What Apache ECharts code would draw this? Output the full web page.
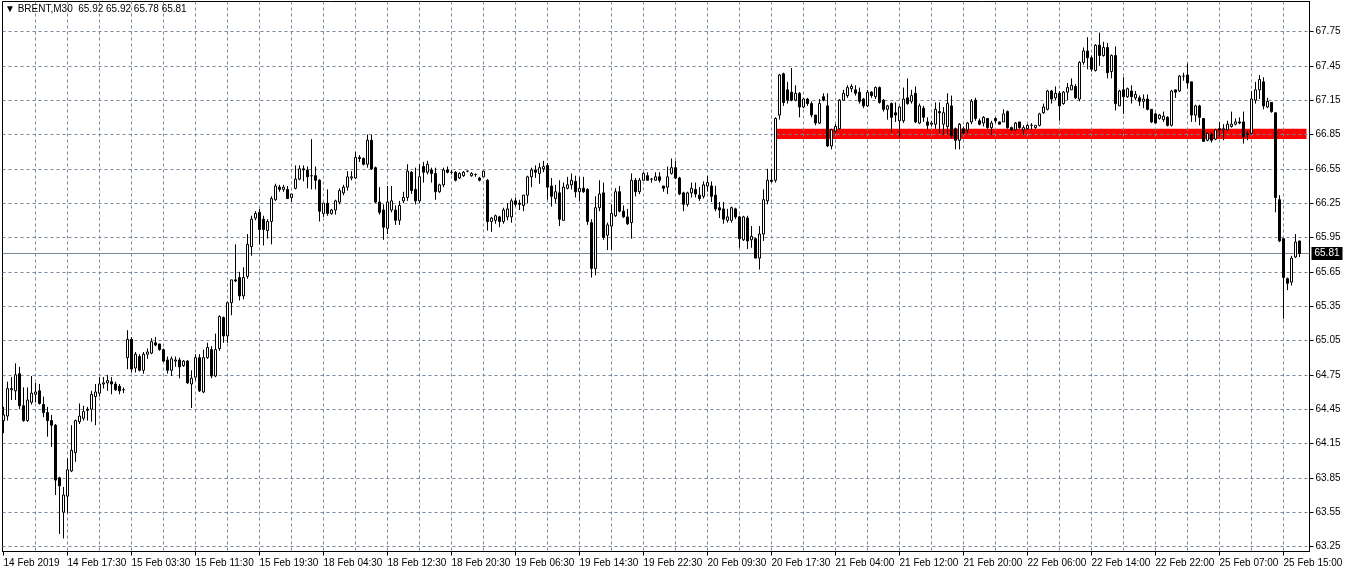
<!DOCTYPE html>
<html><head><meta charset="utf-8">
<script src="https://cdn.jsdelivr.net/npm/echarts@6/dist/echarts.min.js"></script>
<style>html,body{margin:0;padding:0;background:#fff}#c{width:1353px;height:575px}</style>
</head><body><div id="c"></div>
<script>
// ---- data ----
const symbol = 'BRENT,M30';
// each bar: [open, high, low, close]
const bars = [
[64.35,64.47,64.24,64.40],[64.39,64.69,64.35,64.63],[64.62,64.73,64.53,64.63],[64.61,64.85,64.53,64.75],
[64.76,64.82,64.45,64.48],[64.48,64.64,64.34,64.35],[64.35,64.64,64.34,64.53],[64.51,64.74,64.49,64.59],
[64.58,64.68,64.51,64.60],[64.61,64.67,64.49,64.50],[64.49,64.56,64.38,64.42],[64.42,64.47,64.21,64.35],
[64.35,64.40,64.12,64.31],[64.31,64.32,63.70,63.83],[63.85,63.86,63.36,63.78],[63.55,63.77,63.32,63.70],
[63.69,64.02,63.54,63.92],[63.91,64.31,63.90,64.09],[64.07,64.36,63.99,64.35],[64.34,64.50,64.32,64.39],
[64.37,64.48,64.35,64.43],[64.45,64.47,64.35,64.44],[64.45,64.61,64.34,64.58],[64.56,64.67,64.31,64.60],
[64.59,64.73,64.56,64.67],[64.67,64.73,64.63,64.68],[64.68,64.75,64.61,64.70],[64.69,64.73,64.58,64.67],
[64.67,64.69,64.61,64.62],[64.65,64.67,64.58,64.61],[64.62,64.64,64.59,64.62],
[64.90,65.14,64.80,65.06],[65.06,65.08,64.77,64.80],[64.81,64.95,64.77,64.93],[64.91,64.93,64.78,64.79],
[64.79,64.95,64.76,64.93],[64.93,64.98,64.89,64.95],[64.94,65.07,64.93,65.04],[65.03,65.08,65.00,65.01],
[65.02,65.02,64.96,64.97],[64.97,64.98,64.86,64.87],[64.88,64.91,64.76,64.79],[64.79,64.91,64.74,64.89],
[64.87,64.91,64.82,64.88],[64.88,64.90,64.72,64.82],[64.83,64.88,64.82,64.87],[64.87,64.88,64.67,64.68],
[64.67,64.79,64.46,64.72],[64.73,64.93,64.70,64.90],[64.90,64.93,64.60,64.61],[64.60,64.97,64.59,64.90],
[64.90,65.03,64.89,64.99],[64.97,65.00,64.72,64.74],[64.74,65.11,64.73,64.97],[64.98,65.27,64.96,65.26],
[65.25,65.26,65.03,65.09],[65.09,65.39,65.03,65.38],[65.38,65.58,65.27,65.58],[65.58,65.89,65.56,65.57],
[65.60,65.65,65.40,65.44],[65.44,65.69,65.41,65.60],[65.61,65.98,65.59,65.89],[65.87,66.14,65.79,66.11],
[66.12,66.18,66.10,66.16],[66.17,66.20,65.89,66.02],[66.11,66.14,65.88,66.02],[66.01,66.11,65.94,66.09],
[66.09,66.31,65.89,66.29],[66.28,66.42,66.27,66.40],[66.39,66.41,66.35,66.37],[66.37,66.41,66.35,66.39],
[66.37,66.40,66.29,66.29],[66.30,66.33,66.26,66.33],[66.38,66.58,66.37,66.46],[66.46,66.58,66.45,66.55],
[66.55,66.58,66.44,66.54],[66.54,66.57,66.38,66.48],[66.49,66.81,66.37,66.49],[66.49,66.57,66.37,66.45],
[66.45,66.46,66.09,66.18],[66.16,66.25,66.13,66.25],[66.25,66.37,66.14,66.16],[66.16,66.20,66.15,66.19],
[66.19,66.28,66.15,66.27],[66.26,66.38,66.24,66.36],
[66.34,66.41,66.32,66.39],[66.39,66.53,66.36,66.48],[66.47,66.53,66.45,66.48],[66.47,66.70,66.46,66.65],
[66.64,66.67,66.61,66.65],[66.64,66.65,66.58,66.59],[66.59,66.85,66.56,66.80],[66.80,66.85,66.54,66.55],
[66.56,66.57,66.25,66.26],[66.26,66.39,66.15,66.17],[66.19,66.24,65.93,66.04],[66.03,66.40,65.98,66.26],
[66.19,66.40,66.17,66.27],[66.19,66.23,66.06,66.10],[66.10,66.27,66.06,66.23],[66.27,66.35,66.25,66.30],
[66.30,66.59,66.27,66.53],[66.52,66.53,66.33,66.36],[66.37,66.56,66.24,66.27],[66.27,66.59,66.25,66.48],
[66.57,66.61,66.43,66.52],[66.52,66.62,66.50,66.59],[66.54,66.56,66.43,66.51],[66.51,66.56,66.28,66.35],
[66.35,66.42,66.34,66.41],[66.41,66.56,66.39,66.54],[66.54,66.57,66.51,66.52],[66.52,66.54,66.50,66.52],
[66.52,66.53,66.44,66.45],[66.47,66.52,66.46,66.51],[66.49,66.53,66.48,66.52],[66.53,66.53,66.52,66.53],
[66.49,66.52,66.48,66.51],[66.50,66.51,66.48,66.50],[66.47,66.48,66.44,66.45],[66.48,66.53,66.48,66.53],
[66.45,66.46,66.01,66.09],[66.09,66.13,66.00,66.12],[66.10,66.15,66.07,66.14],[66.13,66.14,66.04,66.09],
[66.09,66.21,66.07,66.19],[66.13,66.25,66.10,66.20],[66.13,66.29,66.08,66.27],[66.27,66.30,66.22,66.24],
[66.25,66.28,66.19,66.24],[66.23,66.32,66.18,66.32],[66.32,66.49,66.25,66.48],[66.48,66.56,66.39,66.54],
[66.54,66.58,66.47,66.52],[66.51,66.60,66.42,66.56],[66.55,66.62,66.52,66.57],[66.58,66.60,66.28,66.39],
[66.40,66.47,66.22,66.31],[66.29,66.41,66.25,66.35],[66.34,66.45,66.05,66.11],[66.10,66.43,66.10,66.39],
[66.38,66.48,66.37,66.41],[66.41,66.51,66.37,66.45],[66.44,66.49,66.30,66.35],[66.35,66.48,66.27,66.38],
[66.38,66.48,66.34,66.35],[66.37,66.38,66.06,66.09],[66.08,66.11,65.60,65.68],[65.68,66.31,65.62,66.21],
[66.21,66.45,66.18,66.33],[66.34,66.43,65.93,65.95],[65.97,66.08,65.84,66.06],[66.05,66.24,65.84,66.16],
[66.14,66.38,66.13,66.35],[66.35,66.40,66.17,66.18],[66.18,66.23,66.12,66.13],[66.13,66.20,66.06,66.07],
[66.08,66.51,65.94,66.45],[66.45,66.47,66.31,66.35],[66.35,66.47,66.33,66.45],[66.45,66.52,66.45,66.51],
[66.49,66.52,66.45,66.45],[66.46,66.47,66.43,66.46],[66.45,66.52,66.45,66.48],[66.48,66.52,66.43,66.45],
[66.40,66.40,66.35,66.38],[66.39,66.57,66.33,66.48],[66.51,66.64,66.50,66.56],[66.56,66.62,66.46,66.47],
[66.47,66.48,66.32,66.33],[66.34,66.35,66.18,66.24],[66.24,66.35,66.22,66.34],[66.34,66.43,66.30,66.38],
[66.37,66.43,66.30,66.33],[66.32,66.39,66.27,66.29],[66.31,66.44,66.29,66.41],[66.40,66.49,66.35,66.43],
[66.40,66.44,66.26,66.31],[66.32,66.40,66.18,66.20],[66.21,66.26,66.12,66.19],[66.20,66.26,66.07,66.11],
[66.10,66.20,66.08,66.13],[66.10,66.22,66.08,66.21],[66.20,66.21,66.11,66.13],[66.13,66.14,65.86,65.94],
[65.93,66.14,65.92,66.13],[66.12,66.14,65.85,65.92],[65.93,66.05,65.86,65.96],[65.94,65.95,65.77,65.77],
[65.77,66.05,65.67,65.98],[65.98,66.37,65.92,66.28],[66.27,66.55,66.24,66.45],[66.45,66.55,66.43,66.44],
[66.45,67.00,66.43,66.99],[67.02,67.38,66.98,67.37],[67.38,67.39,67.10,67.13],[67.24,67.31,67.12,67.15],
[67.22,67.43,67.14,67.15],[67.15,67.28,67.14,67.21],[67.21,67.22,67.00,67.09],[67.09,67.17,67.08,67.16],
[67.16,67.17,67.10,67.12],[67.12,67.14,67.00,67.02],[67.02,67.02,66.93,66.95],[66.95,67.16,66.94,67.12],
[67.18,67.21,67.14,67.15],[67.10,67.21,66.74,66.75],[66.75,66.90,66.72,66.89],[66.88,66.94,66.86,66.92],
[66.90,67.16,66.89,67.15],[67.15,67.24,67.15,67.21],[67.19,67.28,67.17,67.26],[67.25,67.29,67.22,67.27],
[67.24,67.28,67.19,67.21],[67.22,67.26,67.12,67.14],[67.16,67.17,67.08,67.10],[67.10,67.24,67.09,67.22],
[67.22,67.23,67.17,67.19],[67.18,67.27,67.16,67.26],[67.26,67.27,67.12,67.13],[67.15,67.16,67.05,67.07],
[67.07,67.11,66.98,67.10],[67.12,67.13,66.87,67.00],[67.04,67.13,66.96,67.02],[66.97,67.10,66.82,67.09],
[66.97,67.26,66.95,67.16],[67.17,67.34,67.11,67.12],[67.14,67.24,67.12,67.19],[67.21,67.27,66.95,66.96],
[66.95,67.12,66.94,67.10],[67.08,67.10,66.96,67.00],[66.96,67.00,66.89,66.93],[66.94,66.97,66.92,66.95],
[66.94,67.13,66.90,67.07],[67.05,67.13,66.86,67.04],[66.94,67.09,66.85,67.04],[66.92,67.21,66.85,67.12],
[67.10,67.19,66.82,66.84],[66.90,66.91,66.72,66.80],[66.80,66.95,66.72,66.94],[66.90,66.92,66.85,66.86],
[66.89,66.96,66.86,66.95],
[66.96,67.16,66.94,67.14],[67.15,67.17,66.97,66.99],[66.97,66.99,66.93,66.94],[66.95,67.01,66.92,67.00],
[66.99,66.99,66.90,66.91],[66.91,66.97,66.85,66.95],[66.99,67.00,66.95,66.97],[66.96,66.96,66.94,66.94],
[66.96,67.07,66.96,67.03],[67.05,67.06,66.90,66.91],[66.91,66.92,66.88,66.89],[66.89,66.96,66.88,66.95],
[66.96,66.96,66.90,66.91],[66.89,66.93,66.85,66.91],[66.90,66.94,66.89,66.93],[66.93,66.95,66.89,66.93],
[66.91,66.93,66.90,66.93],[66.93,67.04,66.92,67.03],[67.04,67.12,67.03,67.09],[67.07,67.24,67.06,67.23],
[67.23,67.24,67.12,67.16],[67.17,67.27,67.15,67.21],[67.21,67.23,66.97,67.10],[67.12,67.23,67.11,67.22],
[67.22,67.30,67.15,67.26],[67.24,67.34,67.24,67.28],[67.27,67.29,67.16,67.17],[67.16,67.49,67.14,67.48],
[67.48,67.61,67.46,67.58],[67.58,67.70,67.42,67.52],[67.52,67.54,67.40,67.42],[67.41,67.64,67.40,67.63],
[67.63,67.74,67.45,67.54],[67.54,67.66,67.53,67.61],[67.61,67.65,67.34,67.39],[67.40,67.55,67.34,67.54],
[67.54,67.62,67.06,67.12],[67.10,67.24,67.10,67.23],[67.24,67.35,67.03,67.18],[67.18,67.26,67.17,67.25],
[67.23,67.28,67.12,67.18],[67.17,67.23,67.15,67.20],[67.17,67.19,67.10,67.14],[67.14,67.20,67.08,67.16],
[67.16,67.20,67.06,67.07],[67.07,67.07,66.95,66.96],[67.03,67.04,66.95,66.95],[66.99,67.03,66.98,67.02],
[66.98,67.05,66.96,67.01],[67.00,67.01,66.92,66.93],[66.93,67.24,66.92,67.23],[67.24,67.24,67.17,67.22],
[67.23,67.37,67.22,67.36],[67.36,67.39,67.32,67.36],[67.37,67.47,67.25,67.30],
[67.31,67.31,66.96,67.02],[67.02,67.11,66.96,67.10],[67.10,67.11,66.93,67.00],[66.99,66.99,66.79,66.79],
[66.80,66.87,66.79,66.86],[66.85,66.87,66.78,66.80],[66.81,66.90,66.80,66.89],[66.90,66.96,66.83,66.89],
[66.89,66.94,66.80,66.90],[66.89,66.97,66.88,66.94],[66.92,67.05,66.91,66.94],[66.94,66.99,66.93,66.96],
[66.96,67.00,66.94,66.95],[66.96,67.05,66.77,66.83],[66.86,66.88,66.80,66.85],[66.86,67.23,66.85,67.16],
[67.15,67.31,67.12,67.24],[67.24,67.37,67.16,67.33],[67.31,67.35,67.07,67.10],[67.09,67.17,67.08,67.14],
[67.13,67.13,67.04,67.05],[67.04,67.04,66.17,66.30],[66.28,66.32,65.91,65.92],[65.94,65.94,65.24,65.60],
[65.59,65.60,65.49,65.55],[65.56,65.79,65.53,65.77],[65.78,65.98,65.77,65.91],[65.92,65.92,65.78,65.81]
];
const tickLabels = ['14 Feb 2019','14 Feb 17:30','15 Feb 03:30','15 Feb 11:30','15 Feb 19:30',
  '18 Feb 04:30','18 Feb 12:30','18 Feb 20:30','19 Feb 06:30','19 Feb 14:30','19 Feb 22:30',
  '20 Feb 09:30','20 Feb 17:30','21 Feb 04:00','21 Feb 12:00','21 Feb 20:00','22 Feb 06:00',
  '22 Feb 14:00','22 Feb 22:00','25 Feb 07:00','25 Feb 15:00'];
const yTicks = [63.25,63.55,63.85,64.15,64.45,64.75,65.05,65.35,65.65,65.95,66.25,66.55,66.85,67.15,67.45,67.75];
// red support/resistance rectangle: [from bar, to bar, low price, high price]
const band = [193.25, 325.75, 66.81, 66.90];

// ---- layout constants ----
const BARS_PER_LABEL = 16, BARS_PER_GRID = 8;
const GRID_COLOR = '#778899';
const FONT = '"Liberation Sans", Arial, sans-serif';

const lastBar = bars[bars.length - 1];
const lastClose = lastBar[3];
const candleData = bars.map((b, i) => [i, b[0], b[3], b[2], b[1]]);
const labelTicks = tickLabels.map((_, k) => k * BARS_PER_LABEL);
const gridTicks = [];
for (let k = BARS_PER_GRID; k <= labelTicks[labelTicks.length - 1]; k += BARS_PER_GRID) gridTicks.push(k);

const dash = { color: GRID_COLOR, type: [3, 3], width: 1 };
const chart = echarts.init(document.getElementById('c'), null, { renderer: 'canvas' });
chart.setOption({
  animation: false,
  backgroundColor: '#ffffff',
  textStyle: { fontFamily: FONT, fontSize: 10, color: '#000' },
  title: {
    text: '\u25BC ' + symbol + '  ' + lastBar.map(v => v.toFixed(2)).join(' '),
    left: 5, top: 4, padding: 0,
    textStyle: { fontFamily: FONT, fontSize: 10, fontWeight: 'normal', color: '#000' }
  },
  grid: { left: 2.5, top: 1.5, width: 1307, height: 550, show: true,
          borderColor: '#000', borderWidth: 1, backgroundColor: 'transparent' },
  xAxis: [
    { type: 'value', min: -0.25, max: 326.5, position: 'bottom',
      axisLine: { show: true, onZero: false, lineStyle: { color: '#000', width: 1 } },
      axisTick: { show: true, length: 4, customValues: labelTicks, lineStyle: { color: '#000' } },
      axisLabel: { customValues: labelTicks, align: 'left', margin: 7, color: '#000',
                   fontFamily: FONT, fontSize: 10,
                   formatter: v => tickLabels[Math.round(v / BARS_PER_LABEL)] },
      splitLine: { show: false } },
    { type: 'value', min: -0.25, max: 326.5, position: 'top',
      axisLine: { show: false }, axisLabel: { show: false },
      axisTick: { show: false, customValues: gridTicks },
      splitLine: { show: true, lineStyle: dash } }
  ],
  yAxis: {
    type: 'value', position: 'right', min: 63.2063, max: 68.0121, scale: true,
    axisLine: { show: true, onZero: false, lineStyle: { color: '#000', width: 1 } },
    axisTick: { show: true, length: 4, customValues: yTicks, lineStyle: { color: '#000' } },
    axisLabel: { customValues: yTicks, margin: 6, color: '#000', fontFamily: FONT, fontSize: 10,
                 formatter: v => v.toFixed(2) },
    splitLine: { show: true, lineStyle: dash }
  },
  series: [{
    type: 'candlestick', xAxisIndex: 0, yAxisIndex: 0,
    data: candleData, barWidth: 2, clip: false,
    itemStyle: { color: '#ffffff', color0: '#000000', borderColor: '#000000',
                 borderColor0: '#000000', borderWidth: 1 },
    markArea: {
      silent: true, z: -1,
      itemStyle: { color: '#ff0000', opacity: 1, borderWidth: 0 },
      data: [[{ xAxis: band[0], yAxis: band[3] }, { xAxis: band[1], yAxis: band[2] }]]
    },
    markLine: {
      silent: true, z: 1, symbol: ['none', 'none'],
      lineStyle: { color: GRID_COLOR, type: 'solid', width: 1 },
      label: { show: true, position: 'end', distance: 2, formatter: lastClose.toFixed(2),
               backgroundColor: '#000', color: '#fff', padding: [2, 3, 1, 3],
               fontFamily: FONT, fontSize: 10 },
      data: [{ yAxis: lastClose }]
    }
  }]
});
</script>
</body></html>
